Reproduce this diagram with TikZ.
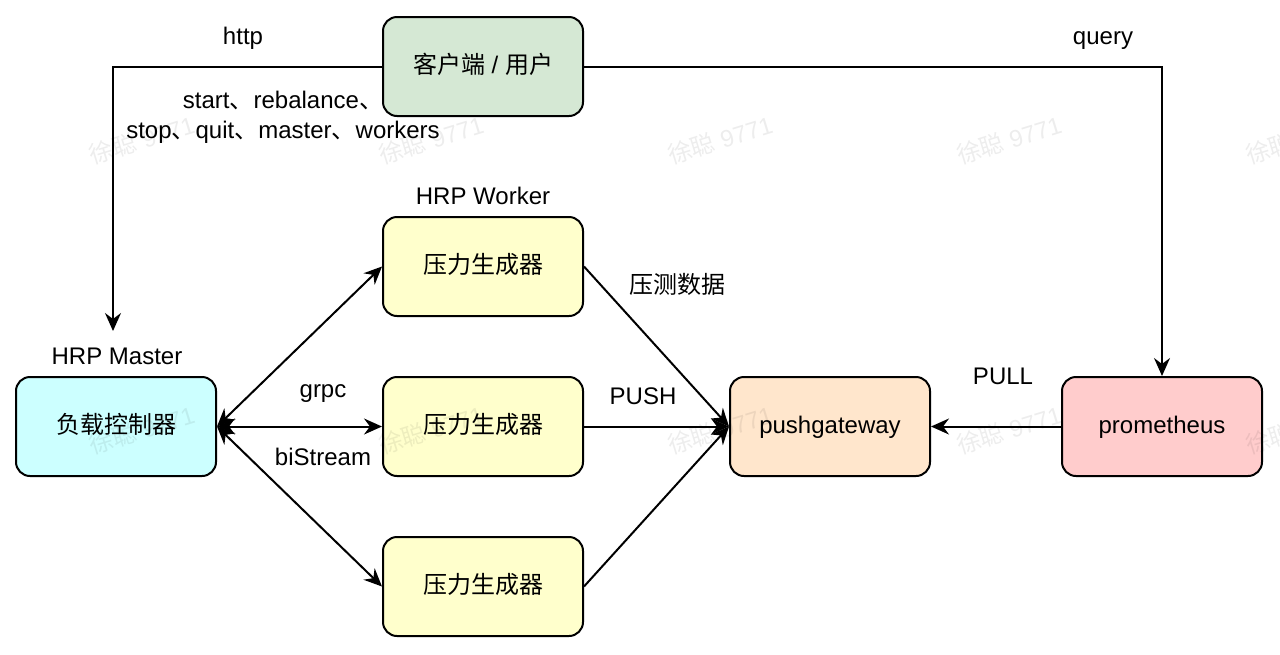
\documentclass[tikz,border=0pt]{standalone}
\usepackage{fontspec}
\setmainfont{Liberation Sans}
\newfontfamily\cjk{Noto Sans CJK SC}
\usetikzlibrary{arrows.meta}
\definecolor{cgreen}{HTML}{D5E8D4}
\definecolor{cyellow}{HTML}{FFFFCC}
\definecolor{ccyan}{HTML}{CCFFFF}
\definecolor{corange}{HTML}{FFE6CC}
\definecolor{cred}{HTML}{FFCCCC}
\begin{document}
\begin{tikzpicture}[x=0.5pt,y=-0.5pt,
  box/.style={draw=black, line width=1pt, rounded corners=7pt, minimum width=100pt, minimum height=49.5pt, inner sep=0pt, text height=9pt, text depth=2.5pt, font=\fontsize{12}{14}\selectfont},
  lbl/.style={inner sep=0pt, font=\fontsize{12}{14}\selectfont},
  tip/.tip={Stealth[length=9pt,width=8pt,inset=3pt]},
  conn/.style={line width=1pt, -tip},
  biconn/.style={line width=1pt, tip-tip},
  wm/.style={text=black, text opacity=0.07, rotate=17, inner sep=0pt, font=\fontsize{12}{14}\selectfont}
]
\useasboundingbox[fill=white] (0,0) rectangle (1280,654);

% nodes
\node[box, fill=cgreen]  (client) at (483,66.5)  {{\cjk 客户端} / {\cjk 用户}};
\node[box, fill=cyellow] (w1)     at (483,266.5) {\cjk 压力生成器};
\node[box, fill=cyellow] (w2)     at (483,426.5) {\cjk 压力生成器};
\node[box, fill=cyellow] (w3)     at (483,586.5) {\cjk 压力生成器};
\node[box, fill=ccyan]   (master) at (116,426.5) {\cjk 负载控制器};
\node[box, fill=corange] (pgw)    at (830,426.5) {pushgateway};
\node[box, fill=cred]    (prom)   at (1162,426.5) {prometheus};

% titles
\node[lbl] (wlabel) at (483,196) {HRP Worker};
\node[lbl] (mlabel) at (117,356) {HRP Master};
\coordinate (mtop) at (113,331);

% connectors
\draw[conn] (client.west) -| (mtop);
\draw[conn] (client.east) -| (prom.north);
\draw[biconn] (master.east) -- (w1.west);
\draw[biconn] (master.east) -- (w2.west);
\draw[biconn] (master.east) -- (w3.west);
\draw[conn] (w1.east) -- (pgw.west);
\draw[conn] (w2.east) -- (pgw.west);
\draw[conn] (w3.east) -- (pgw.west);
\draw[conn] (prom.west) -- (pgw.east);

% edge labels
\node[lbl] (lhttp)  at (243,38)  {http};
\node[lbl] (lquery) at (1103,41) {query};
\node[lbl, align=center] (lcmds) at (283,117) {start{\cjk 、}rebalance{\cjk 、}\\[1pt]stop{\cjk 、}quit{\cjk 、}master{\cjk 、}workers};
\node[lbl] (lgrpc)  at (323,394) {grpc};
\node[lbl] (lbis)   at (323,457) {biStream};
\node[lbl] (ldata)  at (677,284) {\cjk 压测数据};
\node[lbl] (lpush)  at (643,396) {PUSH};
\node[lbl] (lpull)  at (1003,376) {PULL};

% watermark
\foreach \i/\x in {1/142,2/431,3/720,4/1009,5/1298}{
  \node[wm] (wma\i) at (\x,140) {{\cjk 徐聪} 9771};
  \node[wm] (wmb\i) at (\x,430) {{\cjk 徐聪} 9771};
}
\end{tikzpicture}
\end{document}
